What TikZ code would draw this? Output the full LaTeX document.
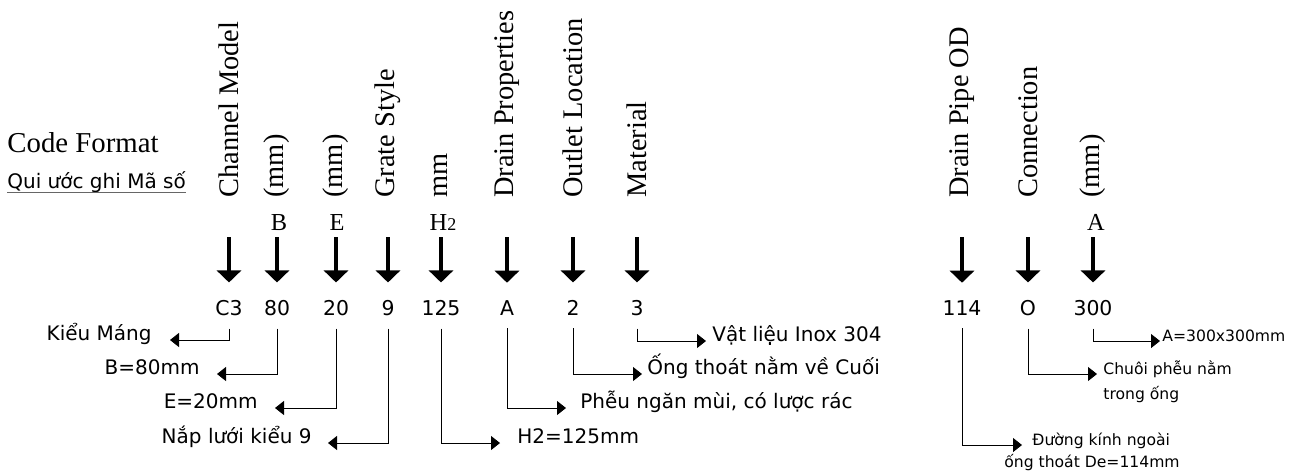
\documentclass[tikz,border=0pt]{standalone}
\usepackage{fontspec}
\setmainfont{Liberation Serif}
\newfontfamily\gothic{DejaVu Sans}
\usetikzlibrary{arrows.meta}
\begin{document}
\begin{tikzpicture}[x=0.5pt, y=-0.5pt,
	head/.style={rotate=90, anchor=west, inner sep=0pt, font=\fontsize{14.2}{16}\selectfont},
	letter/.style={anchor=base, inner sep=0pt, font=\fontsize{12.2}{14}\selectfont},
	code/.style={anchor=base, inner sep=0pt, font=\gothic\fontsize{10.2}{12}\selectfont},
	lnote/.style={anchor=base east, inner sep=0pt, font=\gothic\fontsize{10}{12}\selectfont},
	rnote/.style={anchor=base west, inner sep=0pt, font=\gothic\fontsize{10}{12}\selectfont},
	snote/.style={anchor=base west, inner sep=0pt, font=\gothic\fontsize{7.8}{10}\selectfont},
	down/.style={line width=2.4pt, -{Triangle[length=6pt,width=12pt]}, shorten <=19.5pt, shorten >=8.5pt},
	lead/.style={line width=0.5pt, -{Triangle[length=4.5pt,width=7pt]}, shorten <=6.5pt}]
	\useasboundingbox (0,0) rectangle (1299,473);
	
	% title
	\node[anchor=base west, inner sep=0pt, font=\fontsize{14.4}{16}\selectfont] (code) at (7,152) {Code Format};
	\node[anchor=base west, inner sep=0pt, font=\gothic\fontsize{10}{12}\selectfont] (qui) at (7,188) {Qui ước ghi Mã số};
	\draw[line width=0.6pt, black!60] (qui.south west) -- (qui.south east);
	
	% column heads
	\node[head] (hc3) at (229,198) {Channel Model};
	\node[head] (h80) at (277,198) {(mm)};
	\node[head] (h20) at (336,198) {(mm)};
	\node[head] (h9) at (388,198) {Grate Style};
	\node[head] (h125) at (441,198) {mm};
	\node[head] (ha) at (507,198) {Drain Properties};
	\node[head] (h2) at (573,198) {Outlet Location};
	\node[head] (h3) at (637,198) {Material};
	\node[head] (h114) at (962,198) {Drain Pipe OD};
	\node[head] (ho) at (1028,198) {Connection};
	\node[head] (h300) at (1093,198) {(mm)};
	
	\node[letter] (lb) at (279,230) {B};
	\node[letter] (le) at (337,230) {E};
	\node[letter] (lh) at (443,230) {H{\fontsize{9}{9}\selectfont 2}};
	\node[letter] (la) at (1096,230) {A};
	
	% code values
	\node[code] (vc3) at (229,315) {C3};
	\node[code] (v80) at (277,315) {80};
	\node[code] (v20) at (336,315) {20};
	\node[code] (v9) at (388,315) {9};
	\node[code] (v125) at (441,315) {125};
	\node[code] (va) at (507,315) {A};
	\node[code] (v2) at (573,315) {2};
	\node[code] (v3) at (637,315) {3};
	\node[code] (v114) at (962,315) {114};
	\node[code] (vo) at (1028,315) {O};
	\node[code] (v300) at (1093,315) {300};
	
	\draw[down] (hc3.west) -- (vc3.north);
	\draw[down] (h80.west) -- (v80.north);
	\draw[down] (h20.west) -- (v20.north);
	\draw[down] (h9.west) -- (v9.north);
	\draw[down] (h125.west) -- (v125.north);
	\draw[down] (ha.west) -- (va.north);
	\draw[down] (h2.west) -- (v2.north);
	\draw[down] (h3.west) -- (v3.north);
	\draw[down] (h114.west) -- (v114.north);
	\draw[down] (ho.west) -- (vo.north);
	\draw[down] (h300.west) -- (v300.north);
	
	% meanings
	\node[lnote] (kieu) at (152,340) {Kiểu Máng};
	\node[lnote] (bmm) at (200,374) {B=80mm};
	\node[lnote] (emm) at (258,408) {E=20mm};
	\node[lnote] (nap) at (312,443) {Nắp lưới kiểu 9};
	\node[rnote] (hmm) at (517,443) {H2=125mm};
	\node[rnote] (pheu) at (580,408) {Phễu ngăn mùi, có lược rác};
	\node[rnote] (ong) at (647,374) {Ống thoát nằm về Cuối};
	\node[rnote] (vat) at (712,341) {Vật liệu Inox 304};
	\node[snote] (duong) at (1032,445) {Đường kính ngoài};
	\node[snote, anchor=base] (ongde) at (1092,467) {ống thoát De=114mm};
	\node[snote] (chuoi) at (1103,374) {Chuôi phễu nằm};
	\node[snote] (trong) at (1103,399) {trong ống};
	\node[snote] (amm) at (1162,341) {A=300x300mm};
	
	\draw[lead, shorten >=9pt] (vc3.south) |- (kieu.base east);
	\draw[lead, shorten >=8.5pt] (v80.south) |- (bmm.base east);
	\draw[lead, shorten >=8.5pt] (v20.south) |- (emm.base east);
	\draw[lead, shorten >=8pt] (v9.south) |- (nap.base east);
	\draw[lead, shorten >=8.5pt] (v125.south) |- (hmm.base west);
	\draw[lead, shorten >=7pt] (va.south) |- (pheu.base west);
	\draw[lead, shorten >=2.5pt] (v2.south) |- (ong.base west);
	\draw[lead, shorten >=3pt] (v3.south) |- (vat.base west);
	\draw[lead, shorten >=5pt] (v114.south) |- (duong.base west);
	\draw[lead, shorten >=3pt] (vo.south) |- (chuoi.base west);
	\draw[lead, shorten >=1pt] (v300.south) |- (amm.base west);
\end{tikzpicture}
\end{document}
